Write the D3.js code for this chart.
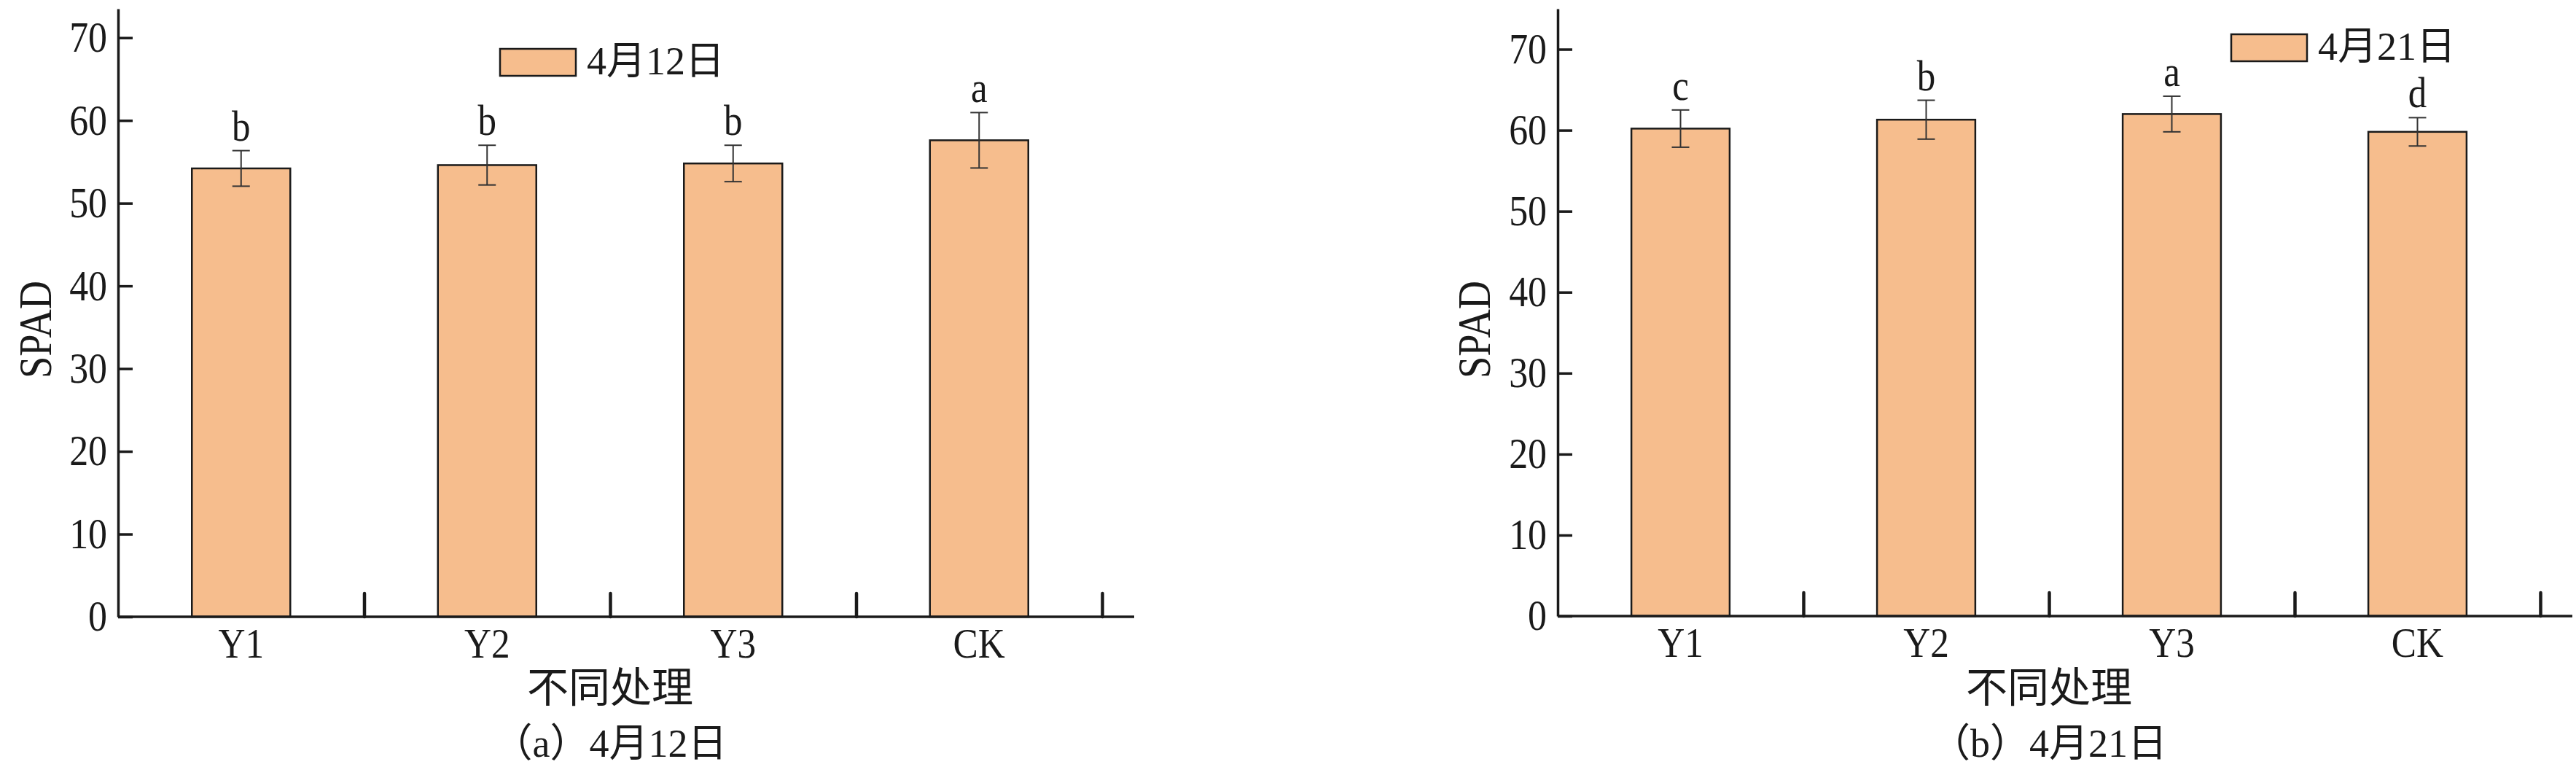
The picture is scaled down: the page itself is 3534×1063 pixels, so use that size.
<!DOCTYPE html>
<html>
<head>
<meta charset="utf-8">
<script src="https://cdn.jsdelivr.net/npm/d3@7"></script>
<style>
  body { margin: 0; background: #fff; }
</style>
</head>
<body>
<div id="chart-area"></div>
<script>
// values
const categories = ["Y1", "Y2", "Y3", "CK"];
const yTicks = [0, 10, 20, 30, 40, 50, 60, 70];

// (a) 4月12日
const spadApr12 = [54.2, 54.6, 54.8, 57.6];
const errApr12 = [2.15, 2.4, 2.2, 3.35];
const sigApr12 = ["b", "b", "b", "a"];

// (b) 4月21日
const spadApr21 = [60.2, 61.3, 62.0, 59.8];
const errApr21 = [2.3, 2.4, 2.2, 1.75];
const sigApr21 = ["c", "b", "a", "d"];

const WIDTH = 3534;
const HEIGHT = 1063;
const SERIF = "'Liberation Serif', 'Times New Roman', serif";
const CJK = "'Liberation Serif', 'Noto Sans CJK SC', sans-serif";
const BAR_FILL = "#f6bd8d";
const INK = "#1a1a1a";

const svg = d3.select("#chart-area").append("svg")
  .attr("width", WIDTH)
  .attr("height", HEIGHT)
  .style("display", "block");

svg.append("rect")
  .attr("width", WIDTH)
  .attr("height", HEIGHT)
  .attr("fill", "#fff");

// layout for the two panels
const panels = [
  {
    left: 162, top: 12, bottom: 846, band: 337.5, yMax: 73.5,
    values: spadApr12, errors: errApr12, sig: sigApr12,
    legend: "4月12日", legendX: 686, legendY: 67,
    caption: "（a）4月12日", labelX: 70
  },
  {
    left: 2137, top: 12, bottom: 845, band: 337, yMax: 75,
    values: spadApr21, errors: errApr21, sig: sigApr21,
    legend: "4月21日", legendX: 3061, legendY: 47,
    caption: "（b）4月21日", labelX: 2044
  }
];

function drawPanel(p) {
  const g = svg.append("g");

  const data = categories.map((c, i) => ({
    cat: c, value: p.values[i], err: p.errors[i], sig: p.sig[i]
  }));

  // scales
  const x = d3.scaleBand()
    .domain(categories)
    .range([p.left, p.left + categories.length * p.band]);

  const y = d3.scaleLinear()
    .domain([0, p.yMax])
    .range([p.bottom, p.top]);

  const cx = d => x(d.cat) + x.bandwidth() / 2;

  // bars
  g.selectAll("rect.bar").data(data)
    .enter()
    .append("rect")
    .attr("class", "bar")
    .attr("x", d => x(d.cat) + x.bandwidth() * 0.3)
    .attr("y", d => y(d.value))
    .attr("width", x.bandwidth() * 0.4)
    .attr("height", d => y(0) - y(d.value))
    .attr("fill", BAR_FILL)
    .attr("stroke", INK)
    .attr("stroke-width", 2.5);

  // error bars
  const eg = g.selectAll("g.err").data(data)
    .enter()
    .append("g")
    .attr("class", "err")
    .attr("stroke", "#333")
    .attr("stroke-width", 2);

  eg.append("line")
    .attr("x1", cx).attr("x2", cx)
    .attr("y1", d => y(d.value + d.err))
    .attr("y2", d => y(d.value - d.err));
  eg.append("line")
    .attr("x1", d => cx(d) - 12).attr("x2", d => cx(d) + 12)
    .attr("y1", d => y(d.value + d.err))
    .attr("y2", d => y(d.value + d.err));
  eg.append("line")
    .attr("x1", d => cx(d) - 12).attr("x2", d => cx(d) + 12)
    .attr("y1", d => y(d.value - d.err))
    .attr("y2", d => y(d.value - d.err));

  // significance letters
  g.selectAll("text.sig").data(data)
    .enter()
    .append("text")
    .attr("class", "sig")
    .attr("transform", d => `translate(${cx(d)},${y(d.value + d.err) - 14}) scale(0.85,1)`)
    .attr("text-anchor", "middle")
    .attr("font-family", SERIF)
    .attr("font-size", 60)
    .attr("fill", INK)
    .text(d => d.sig);

  // y axis, ticks point inward
  const yAxisCall = d3.axisLeft(y)
    .tickValues(yTicks)
    .tickSizeInner(-20)
    .tickSizeOuter(0)
    .tickPadding(17);
  const ya = g.append("g")
    .attr("transform", `translate(${p.left},0)`)
    .call(yAxisCall);
  ya.select(".domain").attr("stroke", INK).attr("stroke-width", 3.5);
  ya.selectAll(".tick line").attr("stroke", INK).attr("stroke-width", 3.5);
  ya.selectAll(".tick text")
    .attr("font-family", SERIF)
    .attr("font-size", 59)
    .attr("fill", INK)
    .attr("transform", "scale(0.88,1)");

  // x axis line, runs a bit past the last band
  const xr = x.range();
  g.append("line")
    .attr("x1", xr[0]).attr("x2", xr[1] + 44)
    .attr("y1", y(0)).attr("y2", y(0))
    .attr("stroke", INK)
    .attr("stroke-width", 3.5);

  // band boundary ticks (upward)
  const xb = d3.scaleLinear().domain([0, categories.length]).range(xr);
  const xTickCall = d3.axisBottom(xb)
    .tickValues(d3.range(1, categories.length + 1))
    .tickSize(-32)
    .tickSizeOuter(0)
    .tickFormat("");
  const xt = g.append("g")
    .attr("transform", `translate(0,${y(0)})`)
    .call(xTickCall);
  xt.select(".domain").remove();
  xt.selectAll(".tick line")
    .attr("stroke", INK)
    .attr("stroke-width", 4.5)
    .attr("stroke-linecap", "round");

  // category labels
  const xLabelCall = d3.axisBottom(x).tickSize(0);
  const xl = g.append("g")
    .attr("transform", `translate(0,${y(0)})`)
    .call(xLabelCall);
  xl.select(".domain").remove();
  xl.selectAll(".tick text")
    .attr("y", 0)
    .attr("dy", 0)
    .attr("transform", "translate(0,56) scale(0.9,1)")
    .attr("font-family", SERIF)
    .attr("font-size", 57)
    .attr("fill", INK);

  // axis titles
  const midX = (xr[0] + xr[1]) / 2;
  g.append("text")
    .attr("x", midX)
    .attr("y", 963)
    .attr("text-anchor", "middle")
    .attr("font-family", CJK)
    .attr("font-size", 57)
    .attr("fill", INK)
    .text("不同处理");

  g.append("text")
    .attr("transform", `translate(${p.labelX},452) rotate(-90) scale(0.85,1)`)
    .attr("text-anchor", "middle")
    .attr("font-family", SERIF)
    .attr("font-size", 64)
    .attr("fill", INK)
    .text("SPAD");

  // caption under the panel
  g.append("text")
    .attr("x", midX)
    .attr("y", 1038)
    .attr("text-anchor", "middle")
    .attr("font-family", CJK)
    .attr("font-size", 54)
    .attr("fill", INK)
    .text(p.caption);

  // legend
  g.append("rect")
    .attr("x", p.legendX)
    .attr("y", p.legendY)
    .attr("width", 104)
    .attr("height", 37)
    .attr("fill", BAR_FILL)
    .attr("stroke", INK)
    .attr("stroke-width", 2.5);
  g.append("text")
    .attr("x", p.legendX + 119)
    .attr("y", p.legendY + 35)
    .attr("font-family", CJK)
    .attr("font-size", 54)
    .attr("fill", INK)
    .text(p.legend);
}

panels.forEach(drawPanel);
</script>
</body>
</html>
